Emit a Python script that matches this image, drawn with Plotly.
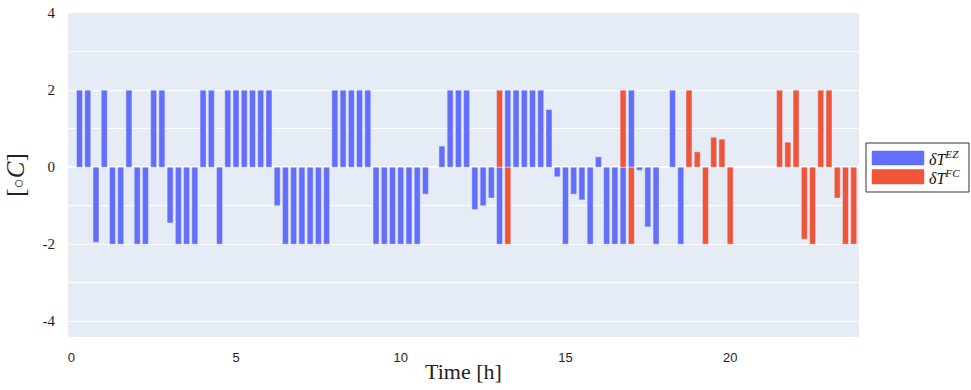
import plotly.graph_objects as go

# Quarter-hour time steps over one day
times = [0.25 * k for k in range(96)]

# Temperature set-point shifts per time step [°C]
delta_ez = [
    0, 2, 2, -1.95, 2, -2, -2, 2, -2, -2,
    2, 2, -1.45, -2, -2, -2, 2, 2, -2, 2,
    2, 2, 2, 2, 2, -1.0, -2, -2, -2, -2,
    -2, -2, 2, 2, 2, 2, 2, -2, -2, -2,
    -2, -2, -2, -0.7, 0, 0.55, 2, 2, 2, -1.1,
    -1.0, -0.8, -2, 2, 2, 2, 2, 2, 1.5, -0.25,
    -2, -0.7, -0.85, -2, 0.27, -2, -2, -2, 2, -0.08,
    -1.55, -2, 0, 2, -2, 0, 0, 0, 0, 0,
    0, 0, 0, 0, 0, 0, 0, 0, 0, 0,
    0, 0, 0, 0, 0, 0,
]
delta_fc = [
    0, 0, 0, 0, 0, 0, 0, 0, 0, 0,
    0, 0, 0, 0, 0, 0, 0, 0, 0, 0,
    0, 0, 0, 0, 0, 0, 0, 0, 0, 0,
    0, 0, 0, 0, 0, 0, 0, 0, 0, 0,
    0, 0, 0, 0, 0, 0, 0, 0, 0, 0,
    0, 0, 2, -2, 0, 0, 0, 0, 0, 0,
    0, 0, 0, 0, 0, 0, 0, 2, -2, 0,
    0, 0, 0, 0, 0, 2, 0.4, -2, 0.78, 0.73,
    -2, 0, 0, 0, 0, 0, 2, 0.65, 2, -1.87,
    -2, 2, 2, -0.8, -2, -2,
]

series_names = ["<i>δT</i><sup><i>EZ</i></sup>", "<i>δT</i><sup><i>FC</i></sup>"]
series_colors = ["#636EFA", "#EF553B"]
x_ticks = [0, 5, 10, 15, 20]
y_ticks = [-4, -2, 0, 2, 4]
y_tick_text = ["-4", "-2", "0", "2", "4"]

SERIF = "Liberation Serif, DejaVu Serif, serif"
SANS = "Liberation Sans, Arial, sans-serif"


def nz(values):
    return [v if v != 0 else None for v in values]


fig = go.Figure()
for vals, name, color in zip([delta_ez, delta_fc], series_names, series_colors):
    fig.add_trace(go.Bar(x=times, y=nz(vals), name=name, marker_color=color,
                         showlegend=False))

# plot-area geometry in pixels, used to place the side legend
L, R, T, B = 68, 859, 13, 337


def px(xp):
    return (xp - L) / (R - L)


def py(yp):
    return (B - yp) / (B - T)


shapes = [
    dict(type="rect", xref="paper", yref="paper",
         x0=px(866), x1=px(969), y0=py(143), y1=py(192),
         line=dict(color="#333", width=1), fillcolor="white", layer="above"),
]
annotations = []
rows = [(151, 165, 157.5), (169.5, 184, 176.5)]
for (y0, y1, yc), name, color in zip(rows, series_names, series_colors):
    shapes.append(dict(type="rect", xref="paper", yref="paper",
                       x0=px(872), x1=px(924), y0=py(y1), y1=py(y0),
                       line=dict(color=color, width=0.5), fillcolor=color,
                       layer="above"))
    annotations.append(dict(xref="paper", yref="paper", x=px(927), y=py(yc),
                            text=name, showarrow=False, xanchor="left",
                            yanchor="middle",
                            font=dict(family=SERIF, size=16, color="#111")))

fig.update_layout(
    width=971, height=390,
    margin=dict(l=L, r=971 - R, t=T, b=390 - B, autoexpand=False),
    barmode="relative",
    bargap=0.27,
    paper_bgcolor="white",
    plot_bgcolor="#E5ECF6",
    shapes=shapes,
    annotations=annotations,
    xaxis=dict(
        range=[-0.1, 23.91],
        tickvals=x_ticks,
        automargin=False,
        showgrid=False,
        zeroline=False,
        ticks="outside", ticklen=8, tickcolor="rgba(0,0,0,0)",
        tickfont=dict(family=SANS, size=13, color="#222"),
        title=dict(text="Time [h]", font=dict(family=SERIF, size=22, color="#222"),
                   standoff=0),
    ),
    yaxis=dict(
        range=[-4.41, 4.005],
        tickvals=y_ticks,
        ticktext=y_tick_text,
        automargin=False,
        showgrid=True, gridcolor="white", gridwidth=1,
        minor=dict(dtick=1, tick0=0, showgrid=True, gridcolor="white", gridwidth=1),
        zeroline=True, zerolinecolor="white", zerolinewidth=1.5,
        ticks="outside", ticklen=9, tickcolor="rgba(0,0,0,0)",
        tickfont=dict(family=SERIF, size=15, color="#222"),
        title=dict(text="[<span style='font-size:17px'>○</span><i>C</i>]",
                   font=dict(family=SERIF, size=25, color="#222"),
                   standoff=10),
    ),
)

fig.write_html("out.html")
